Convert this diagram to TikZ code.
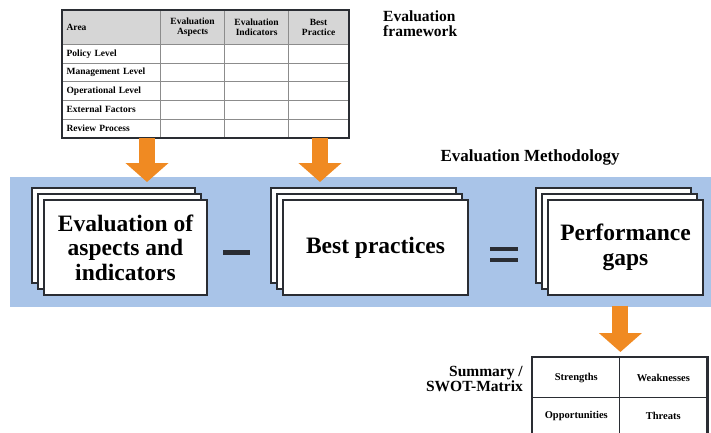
\documentclass[tikz,border=0pt]{standalone}
\usepackage{fontspec}
\setmainfont{Liberation Serif}
\usepackage{tikz}
\usetikzlibrary{arrows.meta, positioning, matrix, shadows}
\definecolor{emBand}{HTML}{A9C4E8}
\definecolor{emOrange}{HTML}{F08A22}
\definecolor{emEdge}{HTML}{2A2D33}
\definecolor{emHead}{HTML}{D6D6D6}
\definecolor{emGrid}{HTML}{8C8C8C}
\tikzset{
  em-card/.style={
    rectangle, draw=emEdge, line width=1.3pt, fill=white, align=center,
    inner sep=0pt, font=\fontsize{23.5}{24.5}\selectfont\bfseries,
    general shadow={fill=white, draw=emEdge, line width=1.3pt,
      shadow xshift=-12pt, shadow yshift=12pt},
    general shadow={fill=white, draw=emEdge, line width=1.3pt,
      shadow xshift=-6pt, shadow yshift=6pt}
  },
  em-bar/.style={
    rectangle, fill=emEdge, inner sep=0pt, minimum width=27pt,
    minimum height=4.5pt
  },
  em-label/.style={align=left, inner sep=0pt, font=\fontsize{15.5}{15}\selectfont\bfseries},
  em-arrow/.style={-{Triangle[width=42pt,length=19pt]}, line width=16pt, draw=emOrange},
}

\begin{document}
\begin{tikzpicture}[x=1pt, y=-1pt]
  \useasboundingbox (0,0) rectangle (711,433);

  % blue band
  \fill[emBand] (10,177) rectangle (711,307);

  % evaluation framework table
  \matrix (fw) [matrix of nodes, nodes in empty cells, anchor=north west,
    inner sep=0pt, column sep=-0.8pt, row sep=-0.8pt,
    nodes={draw=emGrid, line width=0.8pt, minimum height=18.6pt, inner ysep=1pt,
      anchor=center, font=\fontsize{9.5}{10}\selectfont\bfseries},
    column 1/.style={nodes={text width=90pt, inner xsep=4pt, align=left}},
    column 2/.style={nodes={text width=52pt, inner xsep=6pt, align=center}},
    column 3/.style={nodes={text width=52pt, inner xsep=6pt, align=center}},
    column 4/.style={nodes={text width=44pt, inner xsep=8pt, align=center}},
    row 1/.style={nodes={fill=emHead, minimum height=34pt}}
  ] at (62,10) {
    Area              & Evaluation Aspects & Evaluation Indicators & Best Practice \\
    Policy Level      &  &  &  \\
    Management Level  &  &  &  \\
    Operational Level &  &  &  \\
    External Factors  &  &  &  \\
    Review Process    &  &  &  \\
  };
  \draw[line width=2pt, draw=emEdge] (fw.north west) rectangle (fw.south east);
  \node[em-label, anchor=north west] (fwtitle) at (383,11) {Evaluation\\framework};

  % methodology
  \node[em-label, font=\fontsize{17}{17}\selectfont\bfseries] (method) at (530,157) {Evaluation Methodology};

  \node[em-card, minimum width=163pt, minimum height=95pt] (aspects) at (125.5,247.5) {Evaluation of\\aspects and\\indicators};
  \node[em-card, minimum width=185pt, minimum height=95pt] (best) at (375.5,247.5) {Best practices};
  \node[em-card, minimum width=155pt, minimum height=95pt] (gaps) at (625.5,247.5) {Performance\\gaps};

  \node[em-bar] (minus) at (236.5,252.5) {};
  \node[em-bar, minimum width=28pt] (eqtop) at (504,249) {};
  \node[em-bar, minimum width=28pt] (eqbot) at (504,260) {};

  % swot matrix
  \matrix (swot) [matrix of nodes, anchor=north west, inner sep=0pt,
    column sep=-1.2pt, row sep=-1.2pt,
    nodes={draw=emEdge, line width=1.2pt, inner sep=0pt, minimum width=87pt,
      anchor=center, font=\fontsize{10.5}{11}\selectfont\bfseries},
    row 1/.style={nodes={minimum height=40pt}},
    row 2/.style={nodes={minimum height=37pt}}
  ] at (532,357) {
    Strengths     & Weaknesses \\
    Opportunities & Threats    \\
  };
  \draw[line width=2pt, draw=emEdge] (swot.north west) rectangle (swot.south east);
  \node[em-label, align=right, anchor=east] (swottitle) at (523,379) {Summary /\\SWOT-Matrix};

  % orange arrows
  \coordinate (in1) at (147,182);
  \coordinate (in2) at (320,182);
  \draw[em-arrow] (fw.south -| in1) -- (in1);
  \draw[em-arrow] (fw.south -| in2) -- (in2);
  \draw[em-arrow] ([yshift=-10pt]gaps.south -| swot-1-1.east) -- ([yshift=5pt]swot.north -| swot-1-1.east);
\end{tikzpicture}
\end{document}
